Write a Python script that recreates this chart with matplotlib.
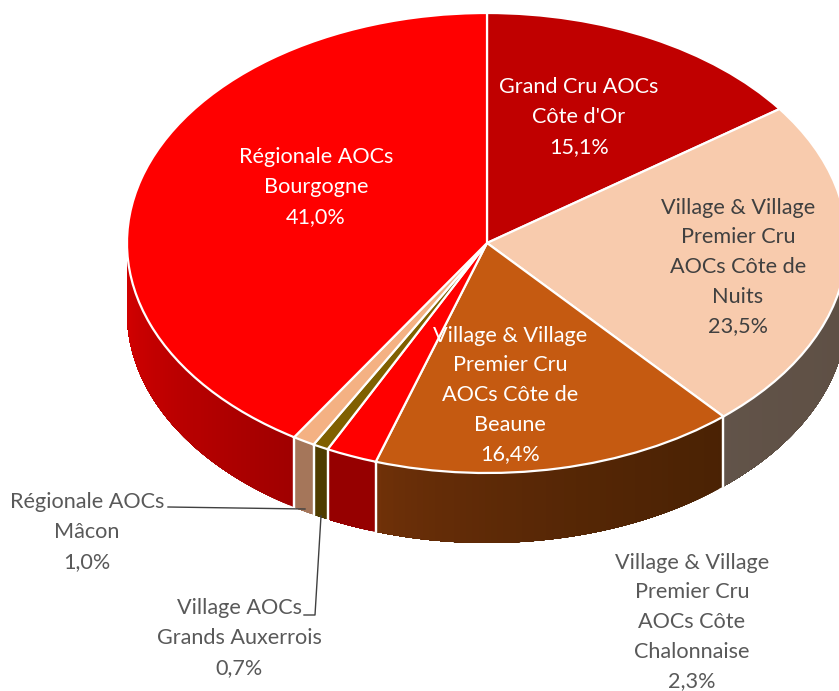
import numpy as np
import matplotlib
matplotlib.use("Agg")
import matplotlib.pyplot as plt

plt.rcParams['font.family'] = ['Lato', 'DejaVu Sans']

names = [
    "Grand Cru AOCs\nCôte d'Or",
    "Village & Village\nPremier Cru\nAOCs Côte de\nNuits",
    "Village & Village\nPremier Cru\nAOCs Côte de\nBeaune",
    "Village & Village\nPremier Cru\nAOCs Côte\nChalonnaise",
    "Village AOCs\nGrands Auxerrois",
    "Régionale AOCs\nMâcon",
    "Régionale AOCs\nBourgogne",
]
shares = [15.1, 23.5, 16.4, 2.3, 0.7, 1.0, 41.0]

top_colors = ['#c00000', '#f8cbad', '#c55a11', '#ff0000', '#7f6000', '#f4b183', '#ff0000']
# side wall colour, left end / right end of the visible wall
side_left = ['#8a0000', '#62544a', '#733209', '#960000', '#4f3c00', '#a5765a', '#d40000']
side_right = ['#8a0000', '#5f5045', '#4a2204', '#960000', '#4f3c00', '#a5765a', '#a00000']
label_colors = ['#ffffff', '#404040', '#ffffff', '#595959', '#595959', '#595959', '#ffffff']
label_centers = [(579, 117), (738, 267), (510, 395), (692, 622), (239, 638), (87, 532), (316, 187)]

W, H = 839, 691
CX, CY, RX, RY, DEPTH = 487, 243, 360, 230, 70


def px(x, y):
    return (x - CX) / RX, (CY - y) / RY


fig = plt.figure(figsize=(W / 100, H / 100), dpi=100)
ax = fig.add_axes([0, 0, 1, 1])

ax.pie(shares, colors=top_colors, startangle=90, counterclock=False, radius=1,
       wedgeprops=dict(edgecolor='white', linewidth=1.6, zorder=3))
ax.set_aspect('auto')
x0, y0 = px(0, H)
x1, y1 = px(W, 0)
ax.set_xlim(x0, x1)
ax.set_ylim(y0, y1)

# side wall, only the front half of the disc is visible
d = DEPTH / RY
edges = np.cumsum([0] + shares) / sum(shares) * 360
for i in range(len(shares)):
    a0, a1 = max(edges[i], 90), min(edges[i + 1], 270)
    if a1 <= a0:
        continue
    n = 60
    t = np.radians(np.linspace(a0, a1, n + 1))
    xs, ys = np.sin(t), np.cos(t)
    c_left = np.array(matplotlib.colors.to_rgb(side_left[i]))
    c_right = np.array(matplotlib.colors.to_rgb(side_right[i]))
    xmin, xmax = xs.min(), xs.max()
    # strips overlap the next one so no seams show
    for k in range(n):
        f = ((xs[k] + xs[k + 1]) / 2 - xmin) / (xmax - xmin)
        col = c_left + (c_right - c_left) * f ** 0.6
        sx = xs[k:n + 1]
        sy = ys[k:n + 1]
        ax.fill(np.r_[sx, sx[::-1]], np.r_[sy, sy[::-1] - d],
                color=col, linewidth=0, zorder=1)
    for a in (a0, a1):
        if 90 < a < 270:
            r = np.radians(a)
            ax.plot([np.sin(r)] * 2, [np.cos(r), np.cos(r) - d], color='white', lw=1.6, zorder=2)

for name, share, col, (lx, ly) in zip(names, shares, label_colors, label_centers):
    txt = name + "\n" + f"{share:.1f}".replace(".", ",") + "%"
    tx, ty = px(lx, ly)
    ax.text(tx, ty, txt, color=col, ha='center', va='center', fontsize=15.6,
            linespacing=1.6, zorder=5)

# leader lines
lx, ly = zip(*[px(168, 507), px(305, 509)])
ax.plot(lx, ly, color='#404040', lw=1, zorder=4)
lx, ly = zip(*[px(321, 516), px(315, 615), px(304, 615)])
ax.plot(lx, ly, color='#404040', lw=1, zorder=4)

fig.savefig("out.png", dpi=100)
